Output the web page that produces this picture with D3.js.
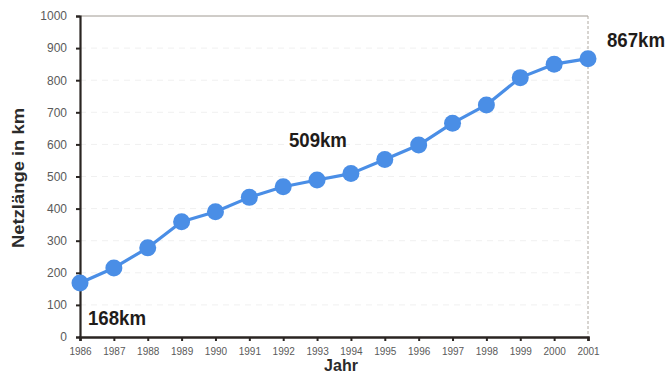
<!DOCTYPE html>
<html>
<head>
<meta charset="utf-8">
<script src="https://cdn.jsdelivr.net/npm/d3@7"></script>
<style>
  html, body { margin: 0; padding: 0; background: #fff; }
  svg { display: block; font-family: "Liberation Sans", Arial, sans-serif; }
</style>
</head>
<body>
<svg id="chart" width="668" height="374"></svg>
<script>
// Netzlänge (km) per year
const years = [1986, 1987, 1988, 1989, 1990, 1991, 1992, 1993, 1994, 1995, 1996, 1997, 1998, 1999, 2000, 2001];
const lengths = [168, 215, 278, 359, 390, 435, 468, 489, 509, 553, 598, 666, 723, 808, 850, 867];
const yTicks = [0, 100, 200, 300, 400, 500, 600, 700, 800, 900, 1000];
// Annotated values: year and the label text
const callouts = [
  { year: 1986, text: "168km" },
  { year: 1994, text: "509km" },
  { year: 2001, text: "867km" }
];

const svg = d3.select("#chart");
const plotLeft = 80, plotRight = 588, plotTop = 16, plotBottom = 337;

const x = d3.scaleLinear().domain([1986, 2001]).range([plotLeft, plotRight]);
const y = d3.scaleLinear().domain([0, 1000]).range([plotBottom, plotTop]);

// faint dotted gridlines
svg.append("g")
  .selectAll("line")
  .data(yTicks.filter(t => t > 0 && t < 1000))
  .join("line")
  .attr("x1", plotLeft).attr("x2", plotRight)
  .attr("y1", d => y(d)).attr("y2", d => y(d))
  .attr("stroke", "#f0f0f0").attr("stroke-width", 1)
  .attr("stroke-dasharray", "6,5");

// top and right frame
svg.append("line")
  .attr("x1", plotLeft).attr("x2", plotRight).attr("y1", y(1000)).attr("y2", y(1000))
  .attr("stroke", "#a09a92").attr("stroke-width", 1);
svg.append("line")
  .attr("x1", plotRight).attr("x2", plotRight).attr("y1", y(1000)).attr("y2", y(0))
  .attr("stroke", "#b0aaa2").attr("stroke-width", 1)
  .attr("stroke-dasharray", "3,2");

// y axis
const yAxis = svg.append("g")
  .attr("transform", `translate(${plotLeft},0)`)
  .call(d3.axisLeft(y).tickValues(yTicks).tickSize(4).tickPadding(9).tickFormat(d3.format("d")));
yAxis.select(".domain").attr("stroke", "#2a2522").attr("stroke-width", 2.2);
yAxis.selectAll(".tick line").attr("stroke", "#2a2522").attr("stroke-width", 2);
yAxis.selectAll(".tick text")
  .attr("fill", "#5a5a5a").attr("font-size", 12)
  .attr("font-family", "Liberation Sans, Arial, sans-serif");

// x axis
const xAxis = svg.append("g")
  .attr("transform", `translate(0,${plotBottom})`)
  .call(d3.axisBottom(x).tickValues(years).tickSize(4).tickPadding(7).tickFormat(d3.format("d")));
xAxis.select(".domain").attr("stroke", "#2a2522").attr("stroke-width", 2.6);
xAxis.selectAll(".tick line").attr("stroke", "#2a2522").attr("stroke-width", 2);
xAxis.selectAll(".tick text")
  .attr("fill", "#5a5a5a").attr("font-size", 10)
  .attr("font-family", "Liberation Sans, Arial, sans-serif");

// axis titles
svg.append("text")
  .attr("transform", `translate(24,178) rotate(-90)`)
  .attr("text-anchor", "middle")
  .attr("font-size", 16).attr("font-weight", "bold").attr("fill", "#2b2b2b")
  .attr("textLength", 140).attr("lengthAdjust", "spacingAndGlyphs")
  .text("Netzlänge in km");
svg.append("text")
  .attr("x", 341).attr("y", 371)
  .attr("text-anchor", "middle")
  .attr("font-size", 16).attr("font-weight", "bold").attr("fill", "#2b2b2b")
  .text("Jahr");

// series line and markers
const pts = years.map((yr, i) => ({ year: yr, value: lengths[i] }));
const blue = "#4a8ee6";
svg.append("path")
  .datum(pts)
  .attr("fill", "none").attr("stroke", blue).attr("stroke-width", 3.2)
  .attr("stroke-linejoin", "round")
  .attr("d", d3.line().x(d => x(d.year)).y(d => y(d.value)));
svg.append("g")
  .selectAll("circle")
  .data(pts)
  .join("circle")
  .attr("cx", d => x(d.year)).attr("cy", d => y(d.value))
  .attr("r", 8.5).attr("fill", blue);

// value callouts
const calloutPos = {
  1986: { dx: 8, dy: 42 },
  1994: { dx: -62, dy: -27 },
  2001: { dx: 19, dy: -12 }
};
svg.append("g")
  .selectAll("text")
  .data(callouts)
  .join("text")
  .attr("x", d => x(d.year) + calloutPos[d.year].dx)
  .attr("y", d => y(lengths[years.indexOf(d.year)]) + calloutPos[d.year].dy)
  .attr("font-size", 20).attr("font-weight", "bold").attr("fill", "#1f1c1a")
  .attr("textLength", 58).attr("lengthAdjust", "spacingAndGlyphs")
  .text(d => d.text);
</script>
</body>
</html>
